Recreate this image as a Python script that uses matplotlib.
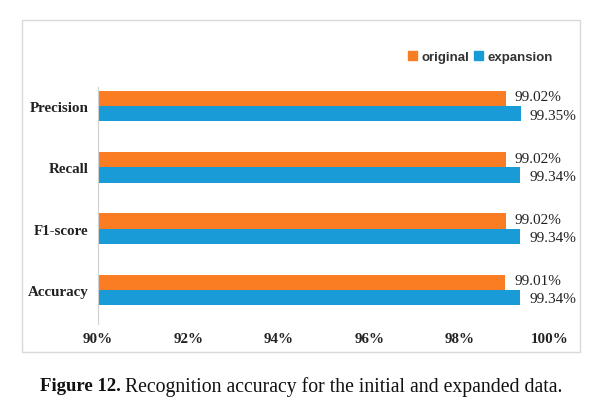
import matplotlib.pyplot as plt
from matplotlib.patches import Rectangle, Patch
from matplotlib.ticker import FuncFormatter

# данные
metrics = ['Accuracy', 'F1-score', 'Recall', 'Precision']
original = [99.01, 99.02, 99.02, 99.02]
expansion = [99.34, 99.34, 99.34, 99.35]
x_ticks = [90, 92, 94, 96, 98, 100]

c_orig = '#FA7D24'
c_exp = '#189BD7'

fig = plt.figure(figsize=(6.04, 4.10), dpi=100)
ax = fig.add_axes([98 / 604, 1 - 325 / 410, 452 / 604, 237 / 410])

# рамка вокруг диаграммы
fig.patches.append(Rectangle((22 / 604, 1 - 353 / 410), 558 / 604, 332 / 410,
                             transform=fig.transFigure, fill=False,
                             edgecolor='#d9d9d9', linewidth=1.0))

h = 0.25
pos = list(range(len(metrics)))
bars_o = ax.barh([p + h / 2 for p in pos], [v - 90 for v in original], height=h,
                 left=90, color=c_orig, label='original')
bars_e = ax.barh([p - h / 2 for p in pos], [v - 90 for v in expansion], height=h,
                 left=90, color=c_exp, label='expansion')

for bars, vals, dy in ((bars_o, original, 1), (bars_e, expansion, -1)):
    for bar, v in zip(bars, vals):
        ax.annotate('{:.2f}%'.format(v),
                    xy=(v, bar.get_y() + bar.get_height() / 2),
                    xytext=(6.5, dy), textcoords='offset points',
                    ha='left', va='center', fontsize=11,
                    family='Liberation Serif', color='#222222')

ax.set_xlim(90, 100)
ax.set_ylim(-0.557, 3.31)
ax.set_xticks(x_ticks)
ax.xaxis.set_major_formatter(FuncFormatter(lambda v, p: '{:.0f}%'.format(v)))
ax.set_yticks(pos)
ax.set_yticklabels(metrics)
for lbl in ax.get_xticklabels() + ax.get_yticklabels():
    lbl.set_family('Liberation Serif')
    lbl.set_fontweight('bold')
    lbl.set_fontsize(10.8)
    lbl.set_color('#222222')
ax.tick_params(axis='both', length=0)
ax.tick_params(axis='x', pad=6)
ax.tick_params(axis='y', pad=7)

for s in ['top', 'right', 'bottom']:
    ax.spines[s].set_visible(False)
ax.spines['left'].set_color('#d0d0d0')
ax.spines['left'].set_linewidth(0.8)

handles = [Patch(color=c_orig, label='original'), Patch(color=c_exp, label='expansion')]
fig.legend(handles=handles, loc='center right', bbox_to_anchor=(565 / 604, 1 - 58 / 410),
           ncol=2, frameon=False, handlelength=0.7, handleheight=0.7,
           handletextpad=0.35, columnspacing=0.35,
           prop={'family': 'Liberation Sans', 'size': 9.5, 'weight': 'bold'},
           labelcolor='#333333')

# подпись
fig.text(40 / 604, 1 - 387 / 410, 'Figure 12.', family='Liberation Serif',
         fontweight='bold', fontsize=13.5, va='center', ha='left', color='#111111')
fig.text(125 / 604, 1 - 387 / 410, 'Recognition accuracy for the initial and expanded data.',
         family='Liberation Serif', fontsize=14.2, va='center', ha='left', color='#111111')

fig.savefig('out.png', dpi=100)
